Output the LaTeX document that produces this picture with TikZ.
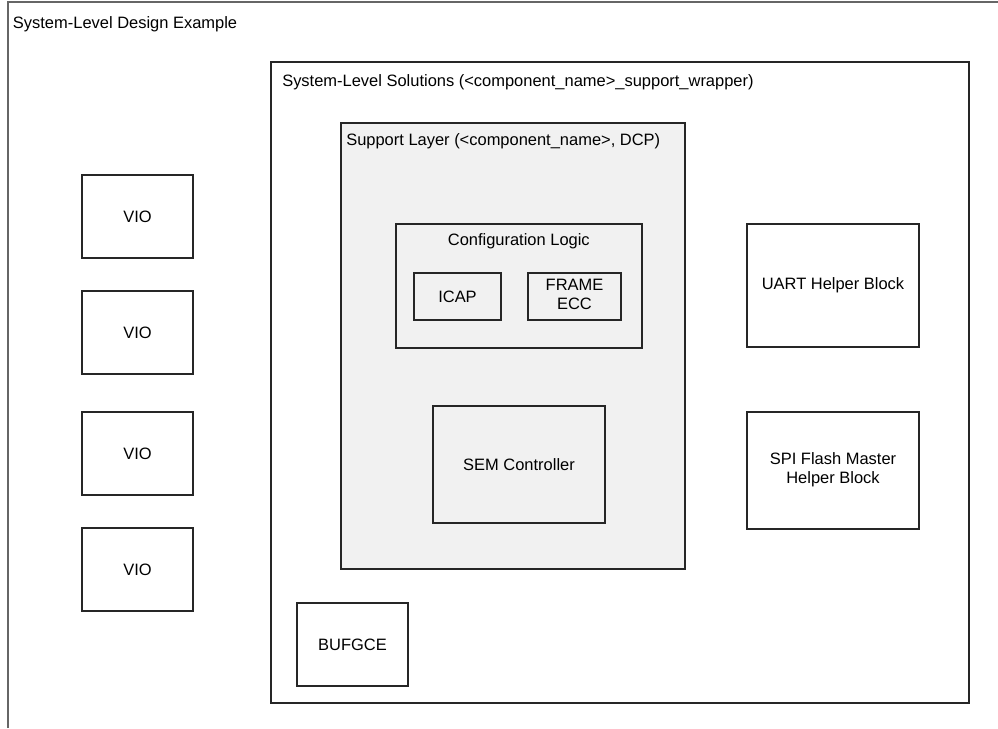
\documentclass[tikz,border=0pt]{standalone}
\usepackage{fontspec}
\setmainfont{Liberation Sans}
\usetikzlibrary{shadows}
\definecolor{layergray}{HTML}{F1F1F1}
\newcommand{\twoline}[2]{\begin{tabular}{@{}c@{}}#1\\#2\end{tabular}}
\tikzset{
  txt/.style={font=\fontsize{12.35pt}{13.8pt}\selectfont, text=black},
  blk/.style={txt, draw=black!85, line width=0.8pt, inner sep=0pt,
    drop shadow={shadow xshift=0.7pt, shadow yshift=-0.7pt, fill=black!45, opacity=1}},
  wbox/.style={blk, fill=white},
  gbox/.style={blk, fill=layergray},
  sz/.style 2 args={minimum width=#1*0.75pt, minimum height=#2*0.75pt},
  lbl/.style={txt, anchor=base west, inner sep=0pt},
}
\begin{document}
\begin{tikzpicture}[x=0.75pt,y=-0.75pt]
\useasboundingbox (0,0) rectangle (998,728);
\fill[white] (0,0) rectangle (998,728);
% outer (clipped) box
\coordinate (ob) at (8,728);
\coordinate (otl) at (8,2);
\coordinate (otr) at (998,2);
\draw[black!60, line width=1.1pt] (ob) -- (otl) -- (otr);
\node[lbl] (title) at (12.7,28.3) {System-Level Design Example};

% VIO blocks
\node[wbox, sz={111}{83}] (vio1) at (137.5,216.5) {VIO};
\node[wbox, sz={111}{83}] (vio2) at (137.5,332.5) {VIO};
\node[wbox, sz={111}{83}] (vio3) at (137.5,453.5) {VIO};
\node[wbox, sz={111}{83}] (vio4) at (137.5,569.5) {VIO};

% solutions wrapper
\node[wbox, sz={698}{641}] (sol) at (620,382.5) {};
\node[lbl] (soltxt) at (282,86) {System-Level Solutions (<component\_name>\_support\_wrapper)};

% support layer
\node[gbox, sz={344}{446}] (sup) at (513,346) {};
\node[lbl] (suptxt) at (346,145) {Support Layer (<component\_name>, DCP)};

% configuration logic
\node[gbox, sz={246}{124}] (cfg) at (519,286) {};
\node[txt, anchor=base, inner sep=0pt] (cfgtxt) at (518.8,245) {Configuration Logic};
\node[gbox, sz={87}{47}] (icap) at (457.5,296.5) {ICAP};
\node[gbox, sz={93}{47}] (frame) at (574.5,296.5) {\twoline{FRAME}{ECC}};

% SEM controller
\node[gbox, sz={172}{117}] (sem) at (519,464.5) {SEM Controller};

% helper blocks
\node[wbox, sz={172}{123}] (uart) at (833,285.5) {UART Helper Block};
\node[wbox, sz={172}{117}] (spi) at (833,470.5) {\twoline{SPI Flash Master}{Helper Block}};

% BUFGCE
\node[wbox, sz={111}{83}] (bufg) at (352.5,644.5) {BUFGCE};
\end{tikzpicture}
\end{document}
